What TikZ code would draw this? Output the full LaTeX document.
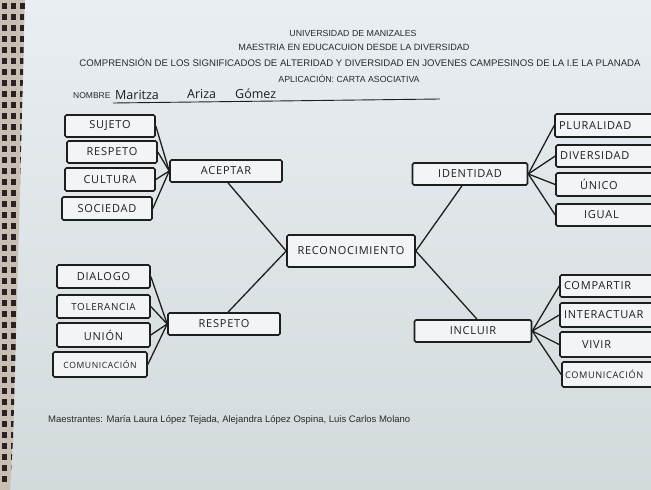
\documentclass[tikz,border=0pt]{standalone}
\usepackage{fontspec}
\setmainfont{Liberation Sans}
\newfontfamily\hand[LetterSpace=7]{Open Sans}
\newfontfamily\handname{Open Sans}
\definecolor{paperA}{HTML}{E8EEF1}
\definecolor{paperB}{HTML}{D3DADC}
\definecolor{mat}{HTML}{C9BEB4}
\definecolor{matdark}{HTML}{2A2220}
\definecolor{ink}{HTML}{1E1E1E}
\definecolor{printink}{HTML}{2A2A2A}
\tikzset{
  box/.style={draw=ink, line width=1.6pt, rounded corners=1.5pt, inner sep=1pt,
    font=\hand\fontsize{11}{12}\selectfont, text=ink, fill=paperA!60},
  link/.style={draw=ink, line width=1.3pt},
  title/.style={text=printink, inner sep=0pt}
}
\begin{document}
\begin{tikzpicture}[x=1pt,y=-1pt]
\useasboundingbox (0,0) rectangle (651,490);
\clip (0,0) rectangle (651,490);
% paper and mat
\shade[top color=paperA, bottom color=paperB] (0,0) rectangle (651,490);
\begin{scope}
  \clip (0,0) -- (25,0) -- (21,150) -- (17,300) -- (13,440) -- (10,490) -- (0,490) -- cycle;
  \fill[mat] (0,0) rectangle (30,490);
  \foreach \xx in {2,11,20}
    \foreach \yy in {3,14,25,36,47,58,69,80,91,102,113,124,135,146,157,168,179,190,201,212,223,234,245,256,267,278,289,300,311,322,333,344,355,366,377,388,399,410,421,432,443,454,465,476}
      \fill[matdark] (\xx,\yy) rectangle (\xx+5,\yy+6);
\end{scope}
% header
\node[title, font=\fontsize{8.8}{9}\selectfont] (t1) at (353,33) {UNIVERSIDAD DE MANIZALES};
\node[title, font=\fontsize{9.1}{10}\selectfont] (t2) at (354,47) {MAESTRIA EN EDUCACUION DESDE LA DIVERSIDAD};
\node[title, font=\fontsize{9.6}{10}\selectfont] (t3) at (360,62) {COMPRENSIÓN DE LOS SIGNIFICADOS DE ALTERIDAD Y DIVERSIDAD EN JOVENES CAMPESINOS DE LA I.E LA PLANADA};
\node[title, font=\fontsize{8.8}{9}\selectfont] (t4) at (349,79) {APLICACIÓN: CARTA ASOCIATIVA};
\node[title, anchor=west, font=\fontsize{8.5}{9}\selectfont] (nm) at (73,96) {NOMBRE};
\node[anchor=west, inner sep=0pt, font=\handname\fontsize{12.5}{13}\selectfont, text=ink] (nmv1) at (115,95) {Maritza};
\node[anchor=west, inner sep=0pt, font=\handname\fontsize{12.5}{13}\selectfont, text=ink] (nmv2) at (187,94) {Ariza};
\node[anchor=west, inner sep=0pt, font=\handname\fontsize{12.5}{13}\selectfont, text=ink] (nmv3) at (235,94) {Gómez};
\coordinate (ul1) at (113,103);
\coordinate (ul2) at (440,99);
\draw[ink, line width=0.9pt] (ul1) -- (ul2);
% centre
\node[box, minimum width=128pt, minimum height=32pt] (rec) at (351,251) {RECONOCIMIENTO};
% hubs
\node[box, minimum width=112pt, minimum height=22pt] (acep) at (226,171) {ACEPTAR};
\node[box, minimum width=115pt, minimum height=22pt] (iden) at (470,174) {IDENTIDAD};
\node[box, minimum width=112pt, minimum height=22pt] (resp) at (224,324) {RESPETO};
\node[box, minimum width=117pt, minimum height=22pt] (incl) at (473,331) {INCLUIR};
% left top
\node[box, minimum width=90pt, minimum height=22pt] (a1) at (110,126) {SUJETO};
\node[box, minimum width=90pt, minimum height=22pt] (a2) at (112,152) {RESPETO};
\node[box, minimum width=90pt, minimum height=23pt] (a3) at (110,179.5) {CULTURA};
\node[box, minimum width=90pt, minimum height=23pt] (a4) at (107,208.5) {SOCIEDAD};
% right top
\node[box, minimum width=100pt, minimum height=23pt, text width=92pt, align=left] (b1) at (605,125.5) {PLURALIDAD};
\node[box, minimum width=100pt, minimum height=22pt, text width=92pt, align=left] (b2) at (606,156) {DIVERSIDAD};
\node[box, minimum width=100pt, minimum height=23pt, text width=92pt, align=left] (b3) at (606,184.5) {\hspace*{20pt}ÚNICO};
\node[box, minimum width=100pt, minimum height=22pt, text width=92pt, align=left] (b4) at (606,215) {\hspace*{24pt}IGUAL};
% left bottom
\node[box, minimum width=93pt, minimum height=23pt] (c1) at (103.5,276.5) {DIALOGO};
\node[box, minimum width=93pt, minimum height=23pt, font=\hand\fontsize{9.8}{10}\selectfont] (c2) at (103.5,306.5) {TOLERANCIA};
\node[box, minimum width=93pt, minimum height=24pt] (c3) at (103.5,335) {UNIÓN};
\node[box, minimum width=94pt, minimum height=25pt, inner sep=0.5pt, font=\hand\fontsize{8.6}{9}\selectfont] (c4) at (100,364.5) {COMUNICACIÓN};
% right bottom
\node[box, minimum width=100pt, minimum height=22pt, text width=92pt, align=left] (d1) at (610,286) {COMPARTIR};
\node[box, minimum width=100pt, minimum height=24pt, text width=92pt, align=left] (d2) at (610,315) {INTERACTUAR};
\node[box, minimum width=100pt, minimum height=25pt, text width=92pt, align=left] (d3) at (610,344.5) {\hspace*{18pt}VIVIR};
\node[box, minimum width=100pt, minimum height=25pt, text width=94pt, align=left, inner sep=0.5pt, font=\hand\fontsize{9.2}{10}\selectfont] (d4) at (612,374.5) {COMUNICACIÓN};
% connectors
\foreach \n in {a1,a2,a3,a4} \draw[link] (\n.east) -- (acep.west);
\foreach \n in {b1,b2,b3,b4} \draw[link] (iden.east) -- (\n.west);
\foreach \n in {c1,c2,c3,c4} \draw[link] (\n.east) -- (resp.west);
\foreach \n in {d1,d2,d3,d4} \draw[link] (incl.east) -- (\n.west);
\draw[link] ([xshift=2pt]acep.south) -- (rec.west);
\draw[link] ([xshift=4pt]resp.north) -- (rec.west);
\draw[link] ([xshift=-8pt]iden.south) -- (rec.east);
\draw[link] (rec.east) -- ([xshift=4pt]incl.north);
% footer
\node[anchor=west, inner sep=0pt, font=\fontsize{9.5}{10}\selectfont, text=printink] (foot) at (48,420) {Maestrantes: María Laura López Tejada, Alejandra López Ospina, Luis Carlos Molano};
\end{tikzpicture}
\end{document}
